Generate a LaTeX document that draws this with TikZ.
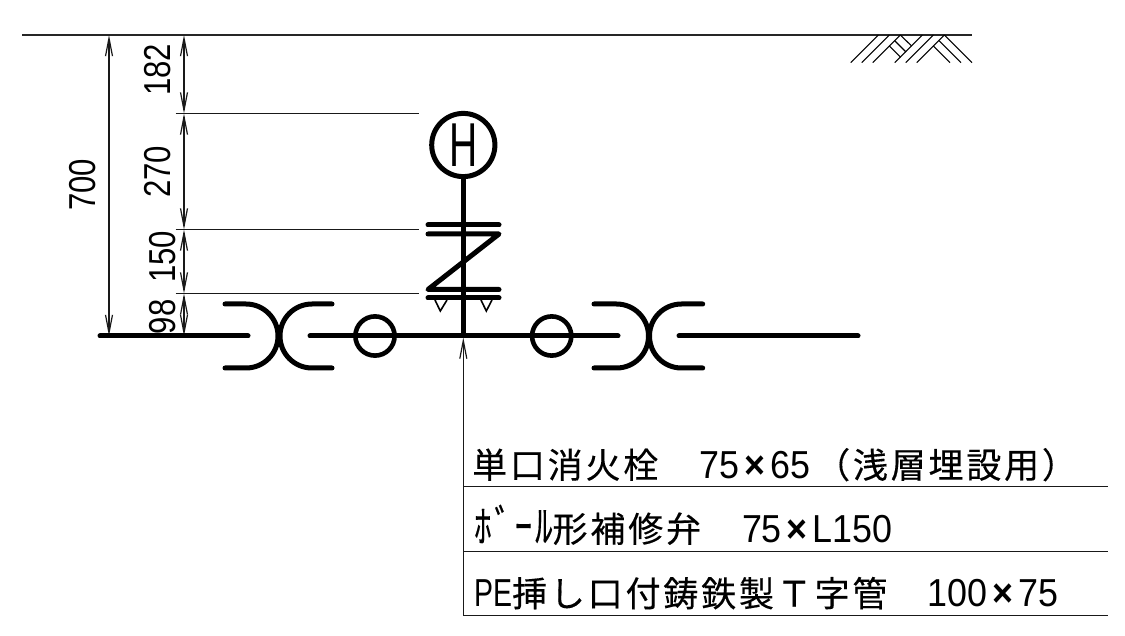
\documentclass[tikz,border=0pt]{standalone}
\usepackage{fontspec}
\usepackage{graphicx}
\usetikzlibrary{arrows.meta}
\setmainfont{Liberation Sans}
\newfontfamily\jpfont{Noto Sans CJK JP}[LetterSpace=8,FakeBold=0.3]
\newcommand{\jp}[1]{{\fontsize{35}{35}\jpfont #1}}
\newcommand{\lat}[2][.92]{\scalebox{#1}[1]{#2}}
\newcommand{\cross}{\hspace{5pt}\textbf{\lat{×}}\hspace{5pt}}
\tikzset{
  pipe/.style={line width=5pt,line cap=round,line join=round},
  riser/.style={line width=4.6pt},
  hatch/.style={line width=1.1pt},
  thinline/.style={line width=1.2pt,black!90},
  dimline/.style={line width=1.2pt,black!90,{Straight Barb[length=18pt,width=7pt]}-{Straight Barb[length=18pt,width=7pt]}},
  dimtext/.style={rotate=90,xscale=.83,transform shape,inner sep=0pt,font=\fontsize{37.5}{37.5}\selectfont},
  listtext/.style={anchor=base west,inner sep=0pt,font=\fontsize{39}{39}\selectfont},
}
\begin{document}
\begin{tikzpicture}[x=1pt,y=-1pt]
\useasboundingbox (0,0) rectangle (1125,636);
\draw[line width=1.7pt,black!85] (22,35) -- (972,35);
\foreach \xtop in {878.3,889.3,900.3,922.3,933.3,944.3}
  \draw[hatch] (\xtop,35) -- ++(-27.6,27.6);
\draw[hatch] (900.3,35) -- (911.6,46);
\draw[hatch] (894.7,40.7) -- (906,52);
\draw[hatch] (889.3,46) -- (900.6,57.3);
\draw[hatch] (944.3,35) -- (972,62.7);
\draw[hatch] (939,40.7) -- (961,62.7);
\draw[hatch] (933.3,46) -- (950,62.7);
\draw[dimline] (109,35) -- (109,336);
\draw[dimline] (184,35) -- (184,113.5);
\draw[dimline] (184,113.5) -- (184,229.5);
\draw[dimline] (184,229.5) -- (184,293.5);
\draw[dimline] (184,293.5) -- (184,336);
\draw[thinline] (175.7,113.5) -- (419,113.5);
\draw[thinline] (175.7,229.5) -- (419,229.5);
\draw[thinline] (175.7,293.5) -- (419,293.5);
\node[dimtext] (dimtotal) at (82.7,185) {700};
\node[dimtext] (dimcover) at (158,70) {182};
\node[dimtext] (dimhydrant) at (158,171.7) {270};
\node[dimtext] (dimvalve) at (162.7,257) {150};
\node[dimtext] (dimtee) at (162.7,316.7) {98};
\draw[pipe] (100,336) -- (248,336);
\draw[pipe] (310,336) -- (618,336);
\draw[pipe] (679,336) -- (858,336);
\draw[pipe] (225,304) -- (246,304) .. controls (263.7,304) and (278,318.3) .. (278,336) .. controls (278,353.7) and (263.7,368) .. (246,368) -- (225,368);
\draw[pipe] (332,304) -- (312,304) .. controls (294.3,304) and (280,318.3) .. (280,336) .. controls (280,353.7) and (294.3,368) .. (312,368) -- (332,368);
\draw[pipe] (594,304) -- (616.5,304) .. controls (634.2,304) and (648.5,318.3) .. (648.5,336) .. controls (648.5,353.7) and (634.2,368) .. (616.5,368) -- (594,368);
\draw[pipe] (702.7,304) -- (681.5,304) .. controls (663.8,304) and (649.5,318.3) .. (649.5,336) .. controls (649.5,353.7) and (663.8,368) .. (681.5,368) -- (702.7,368);
\draw[line width=4.6pt] (375,336) circle (19.6);
\draw[line width=4.6pt] (551.7,336) circle (19.6);
\draw[line width=5pt] (463.3,145) circle (31.6);
\node[inner sep=0pt,font=\fontsize{62}{62}\selectfont] (hydrant) at (463.3,145) {\lat[.63]{H}};
\draw[riser] (463.3,177) -- (463.3,336);
\draw[pipe] (428,225) -- (499,225);
\draw[pipe] (428,234) -- (499,234) -- (428,289.5) -- (499,289.5);
\draw[pipe] (428,298) -- (499,298);
\draw[line width=1.6pt] (435,300) -- (440.3,311) -- (447,300);
\draw[line width=1.6pt] (481,300) -- (486.3,311) -- (492,300);
\coordinate (leaderfoot) at (463.3,615.5);
\coordinate (leadertip) at (463.3,337.5);
\draw[thinline,-{Straight Barb[length=18pt,width=7pt]}] (leaderfoot) -- (leadertip);
\draw[thinline] (463.3,486.5) -- (1108,486.5);
\draw[thinline] (463.3,551.5) -- (1108,551.5);
\draw[thinline] (463.3,615.5) -- (1108,615.5);
\node[listtext] (hydrantlabel) at (472,478) {\jp{単口消火栓}\hspace{41pt}\lat{75}\cross\lat{65}\hspace{5pt}\jp{（浅層埋設用）}};
\node[listtext] (valvelabel) at (474,542) {\scalebox{1}[1.25]{\jp{ﾎﾞｰﾙ}}\jp{形補修弁}\hspace{41pt}\lat{75}\cross\lat{L150}};
\node[listtext] (teelabel) at (474,606.5) {\lat[.73]{PE}\jp{挿し口付鋳鉄製Ｔ字管}\hspace{40pt}\lat{100}\cross\lat{75}};
\end{tikzpicture}
\end{document}
